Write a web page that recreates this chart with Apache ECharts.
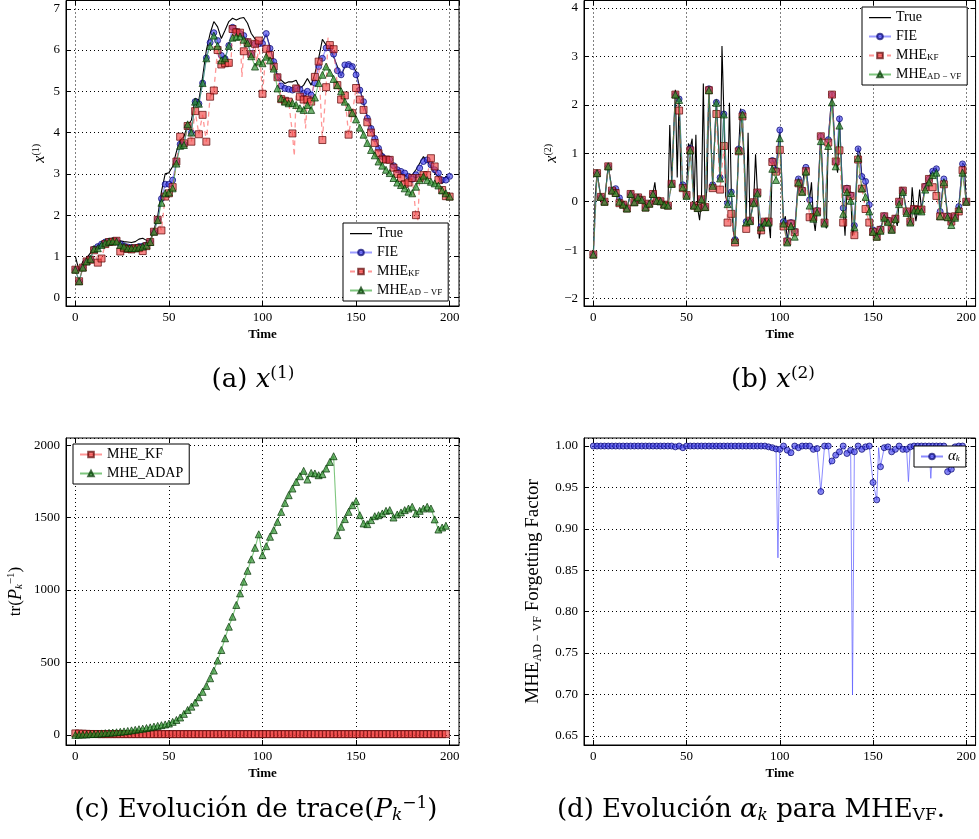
<!DOCTYPE html>
<html><head><meta charset="utf-8">
<script src="https://cdn.jsdelivr.net/npm/echarts@6/dist/echarts.min.js"></script>
<style>html,body{margin:0;padding:0;background:#fff}#c{width:979px;height:839px}</style>
</head><body><div id="c"></div><script>
// ---------- data (markers every 2 time steps, t = 0,2,4,...) ----------
const x1True = [1.0,0.65,0.88,0.96,1.08,1.2,1.27,1.32,1.36,1.39,
 1.4,1.4,1.38,1.36,1.35,1.34,1.36,1.42,1.44,1.39,
 1.38,1.65,1.97,2.57,3.0,3.03,3.18,3.54,3.82,3.9,
 4.18,4.3,4.83,4.79,5.35,6.0,6.4,6.69,6.56,6.28,
 6.48,6.69,6.77,6.73,6.77,6.79,6.65,6.4,6.27,6.2,
 6.2,6.38,6.08,5.72,5.35,5.27,5.19,5.23,5.23,5.27,
 5.07,5.15,5.31,5.15,5.43,5.8,6.26,6.12,6.04,5.84,
 5.6,5.37,5.6,5.68,5.64,5.48,5.07,4.71,4.39,4.15,
 3.9,3.66,3.5,3.38,3.34,3.22,3.1,3.02,2.98,2.9,
 2.98,3.1,3.26,3.42,3.3,3.18,3.02,2.94,2.77,2.94,2.9];
const x1FIE = [0.68,0.4,0.73,0.88,0.94,1.18,1.24,1.3,1.35,1.37,
 1.38,1.38,1.3,1.26,1.23,1.22,1.21,1.24,1.25,1.28,
 1.36,1.6,1.9,2.4,2.75,2.75,2.85,3.3,3.72,3.72,
 4.15,4.0,4.75,4.7,5.2,5.81,6.18,6.42,6.23,5.87,
 5.79,6.11,6.55,6.45,6.4,6.35,6.2,5.9,6.15,6.15,
 6.16,6.4,6.04,5.72,5.35,5.13,5.07,5.05,5.03,5.07,
 5.05,4.95,5.0,4.91,5.2,5.6,5.8,6.05,6.05,5.9,
 5.5,5.4,5.64,5.65,5.6,5.4,5.03,4.75,4.35,4.1,
 3.86,3.62,3.42,3.35,3.35,3.2,3.1,3.06,3.02,2.94,
 2.87,2.98,3.14,3.3,3.34,3.22,3.1,3.02,2.85,2.85,2.94];
const x1KF = [0.68,0.4,0.73,0.88,0.92,1.15,0.85,0.95,1.3,1.35,
 1.36,1.38,1.12,1.2,1.18,1.17,1.2,1.2,1.13,1.25,
 1.35,1.6,1.89,1.63,2.45,2.53,2.68,3.3,3.9,3.74,
 4.16,3.78,4.52,3.96,4.43,3.78,4.87,5.02,6.0,5.65,
 5.68,5.69,6.51,6.43,6.42,5.97,6.19,5.9,6.15,6.23,
 4.94,6.03,5.88,5.6,5.34,4.81,4.77,4.75,3.98,5.07,
 4.87,4.8,4.8,4.75,5.35,5.72,3.82,5.1,6.12,6.02,
 5.15,4.8,4.9,3.95,4.47,5.08,4.8,4.55,4.25,4.0,
 3.75,3.5,3.35,3.35,3.34,3.15,3.0,2.9,2.75,2.79,
 2.9,2.0,2.9,2.97,2.97,3.38,3.18,2.85,2.61,2.46,2.45];
// odd-step points of the MHE_KF line (no marker): [t, value]
const x1KFOdd = [[83,5.55],[89,5.35],[97,5.6],[117,3.43],[123,4.1],[135,6.3],[183,1.88]];
const x1ADVF = [0.68,0.4,0.73,0.88,0.94,1.18,1.2,1.28,1.33,1.36,
 1.37,1.36,1.28,1.24,1.2,1.2,1.2,1.22,1.24,1.27,
 1.35,1.6,1.88,2.3,2.53,2.55,2.65,3.25,3.68,3.7,
 4.2,4.0,4.75,4.7,5.2,5.8,6.1,6.35,6.1,5.75,
 5.8,6.1,6.3,6.32,6.33,6.25,6.17,5.85,5.6,5.72,
 5.68,5.84,5.75,5.55,5.07,4.83,4.75,4.71,4.72,4.67,
 4.59,4.55,4.67,4.55,4.85,5.2,5.4,5.6,5.45,5.3,
 5.15,5.0,4.75,4.62,4.48,4.32,4.12,3.95,3.75,3.58,
 3.45,3.3,3.2,3.1,3.02,2.9,2.79,2.73,2.65,2.57,
 2.53,2.69,2.85,2.94,2.85,2.81,2.77,2.72,2.6,2.53,2.45];

const x2True = [-1.09,0.6,0.1,0.0,0.75,0.25,0.28,0.1,-0.05,-0.14,
 0.17,-0.01,0.1,0.05,-0.12,-0.03,0.17,0.03,0.01,-0.06,
 -0.08,0.4,2.31,2.15,0.38,0.15,1.12,-0.08,-0.15,0.06,
 -0.12,2.35,0.38,2.08,0.52,1.83,-0.02,0.22,-0.8,1.12,
 1.9,-0.42,-0.38,0.0,0.2,-0.52,-0.42,-0.4,0.88,0.68,
 1.5,-0.42,-0.82,-0.42,-0.62,0.5,0.26,0.72,0.05,-0.33,
 -0.18,1.4,-0.43,1.3,2.25,0.85,1.75,-0.13,0.3,0.15,
 -0.5,1.12,0.54,0.45,-0.05,-0.6,-0.72,-0.56,-0.28,-0.38,
 -0.58,-0.34,0.02,0.25,-0.2,-0.42,-0.14,-0.15,-0.16,0.34,
 0.48,0.65,0.7,-0.2,0.48,-0.3,-0.4,-0.3,-0.1,0.8,0.0];
// odd-step points of the true x2 line: [t, value]
const x2TrueOdd = [[1,0.1],[33,0.4],[41,1.58],[45,0.5],[47,0.4],[51,1.2],[53,1.3],[55,1.38],[57,-0.38],
 [59,2.44],[61,0.3],[69,3.21],[71,0.1],[73,2.04],[75,-0.6],[79,1.92],[81,0.9],[83,1.42],[87,0.98],
 [89,-0.76],[95,-0.75],[97,0.9],[103,-0.3],[105,-0.5],[111,0.5],[113,0.6],[117,0.4],[119,-0.6],
 [123,1.42],[125,-0.55],[127,1.3],[131,0.6],[133,1.75],[135,-0.7],[139,-0.7],[143,1.0],[149,-0.65],
 [163,-0.5],[165,0.3],[171,0.3],[173,-0.4],[175,0.25],[181,0.6],[185,0.7],[191,-0.45],[199,0.75]];
const x2FIE = [-1.09,0.59,0.1,0.0,0.73,0.23,0.27,0.08,-0.06,-0.14,
 0.16,-0.01,0.09,0.04,-0.12,-0.04,0.16,0.02,0.01,-0.06,
 -0.08,0.37,2.21,2.12,0.35,0.14,1.1,-0.08,-0.13,0.05,
 -0.11,2.33,0.35,2.05,0.5,1.81,-0.03,0.2,-0.78,1.09,
 1.84,-0.41,-0.39,-0.01,0.19,-0.51,-0.41,-0.41,0.85,0.65,
 1.48,-0.41,-0.8,-0.43,-0.61,0.47,0.25,0.71,0.04,-0.32,
 -0.18,1.35,-0.43,1.28,2.21,0.83,1.71,-0.13,0.28,0.14,
 -0.49,1.09,0.52,0.42,-0.06,-0.58,-0.7,-0.56,-0.29,-0.38,
 -0.57,-0.34,0.0,0.23,-0.2,-0.41,-0.15,-0.15,-0.16,0.32,
 0.47,0.63,0.68,-0.2,0.47,-0.29,-0.39,-0.3,-0.1,0.78,0.0];
const x2KF = [-1.09,0.59,0.1,0.0,0.73,0.23,0.18,-0.03,-0.06,-0.14,
 0.16,-0.01,0.09,0.04,-0.12,-0.04,0.16,0.02,0.01,-0.06,
 -0.08,0.37,2.21,1.88,0.28,0.14,1.06,-0.08,-0.13,0.05,
 -0.11,2.3,0.28,1.81,0.25,1.15,-0.43,-0.25,-0.84,1.04,
 1.76,-0.56,-0.39,-0.01,0.19,-0.59,-0.41,-0.41,0.82,0.62,
 1.07,-0.51,-0.82,-0.45,-0.63,0.38,0.22,0.63,-0.32,-0.32,
 -0.2,1.35,-0.43,1.22,2.21,0.83,1.06,-0.43,0.26,0.12,
 -0.69,0.87,0.27,-0.15,-0.43,-0.62,-0.72,-0.58,-0.3,-0.4,
 -0.57,-0.35,0.0,0.23,-0.2,-0.41,-0.15,-0.17,-0.16,0.3,
 0.47,0.3,0.12,-0.3,0.36,-0.31,-0.41,-0.3,-0.2,0.65,0.0];
const x2ADVF = [-1.09,0.59,0.1,0.0,0.73,0.23,0.18,0.0,-0.06,-0.14,
 0.16,-0.01,0.09,0.04,-0.12,-0.04,0.16,0.02,0.01,-0.06,
 -0.08,0.37,2.21,2.1,0.3,0.12,1.06,-0.08,-0.13,0.05,
 -0.11,2.3,0.33,2.04,0.48,1.8,-0.05,0.18,-0.79,1.06,
 1.8,-0.43,-0.4,-0.03,0.17,-0.53,-0.43,-0.43,0.68,0.45,
 1.31,-0.45,-0.84,-0.5,-0.72,0.4,0.2,0.62,-0.08,-0.35,
 -0.22,1.25,-0.45,1.15,2.05,0.73,1.57,-0.25,0.2,0.02,
 -0.52,0.9,0.28,0.1,-0.2,-0.62,-0.72,-0.6,-0.33,-0.42,
 -0.58,-0.36,-0.05,0.2,-0.23,-0.43,-0.18,-0.18,-0.2,0.25,
 0.4,0.55,0.6,-0.3,0.4,-0.32,-0.48,-0.33,-0.15,0.6,0.0];

const trKF = [10,9,8,7,6,6,5,5,5,5, 5,5,5,5,5,5,5,5,5,5, 5,5,5,5,5,5,5,5,5,5, 5,5,5,5,5,5,5,5,5,5,
 5,5,5,5,5,5,5,5,5,5, 5,5,5,5,5,5,5,5,5,5, 5,5,5,5,5,5,5,5,5,5, 5,5,5,5,5,5,5,5,5,5,
 5,5,5,5,5,5,5,5,5,5, 5,5,5,5,5,5,5,5,5,5];
const trADAP = [0,1,2,3,5,6,8,10,12,14,
 16,18,21,24,27,31,35,39,43,47,
 52,57,62,67,72,78,90,103,120,145,
 172,195,223,260,297,338,391,444,513,586,
 667,747,816,897,977,1058,1133,1212,1292,1385,
 1241,1303,1368,1414,1471,1540,1602,1655,1701,1747,
 1786,1823,1763,1809,1805,1793,1800,1839,1885,1924,
 1379,1437,1490,1540,1586,1614,1517,1460,1455,1483,
 1510,1517,1529,1547,1552,1501,1522,1536,1552,1563,
 1575,1529,1547,1563,1575,1563,1488,1418,1432,1444];

const alphaK = [1,1,1,1,1,1,1,1,1,1, 1,1,1,1,1,1,1,1,1,1,
 1,1,0.999,1,0.998,1,1,1,1,1, 1,1,1,1,1,1,1,1,1,1,
 1,1,1,1,1,1,1,0.999,0.998,0.9965,
 0.996,1,0.995,0.992,1,0.998,1,1,1,0.996,
 0.997,0.945,1,1,0.982,0.989,0.993,1,0.991,0.995,
 0.993,1,0.996,0.999,1,0.956,0.935,0.975,0.998,0.999,
 0.993,0.996,1,0.996,0.996,0.999,1,1,1,1,
 1,1,1,1,1,0.969,0.972,0.999,1,1];
const alphaOdd = [[99,0.865],[105,0.988],[127,0.977],[139,0.6995],[153,0.998],[169,0.957],[181,0.961]];

// ---------- chart ----------
const FONT = "'Liberation Serif','DejaVu Serif',serif";
const CAPFONT = "'DejaVu Serif','Liberation Serif',serif";
const chart = echarts.init(document.getElementById('c'), null, {renderer:'canvas'});

function evenPts(vals){ return vals.map((v,i)=>({value:[i*2, v]})); }
function withOdd(vals, odd){
  const d = evenPts(vals);
  odd.forEach(s=>d.push({value:[s[0], s[1]], symbol:'none'}));
  d.sort((a,b)=>a.value[0]-b.value[0]);
  return d;
}

const grids = [
  {left:66, top:0.5, width:393, height:305.5, show:true, borderColor:'#000', borderWidth:1},
  {left:584, top:0.5, width:393.75, height:305.5, show:true, borderColor:'#000', borderWidth:1},
  {left:66, top:438, width:393, height:307, show:true, borderColor:'#000', borderWidth:1},
  {left:584, top:438, width:393.75, height:307, show:true, borderColor:'#000', borderWidth:1}
];

function richSet(base){
  const sub = {fontFamily:FONT, fontSize:Math.round(base*0.64), color:'#000', padding:[Math.round(base*0.38),0,0,0]};
  return {
    i: {fontStyle:'italic', fontFamily:FONT, fontSize:base+1, color:'#000'},
    n: {fontFamily:FONT, fontSize:base, color:'#000'},
    s: sub,
    k: Object.assign({}, sub, {fontStyle:'italic'}),
    p: {fontFamily:FONT, fontSize:Math.round(base*0.66), color:'#000', padding:[0,0,Math.round(base*0.5),0]},
    m: {fontFamily:FONT, fontSize:19, color:'#000'},
    t: {fontFamily:FONT, fontSize:12, color:'#000', padding:[9,0,0,0]}
  };
}

function xAx(g, top){
  return {type:'value', gridIndex:g, min:-5, max:205, splitNumber:4, position: top?'top':'bottom',
    axisLine:{show:!top, onZero:false, lineStyle:{color:'#000'}},
    axisTick:{show:true, inside:true, length:5, lineStyle:{color:'#000'}},
    axisLabel:{show:!top, showMinLabel:false, showMaxLabel:false, color:'#000', fontFamily:FONT, fontSize:13, margin:5},
    splitLine:{show:!top, lineStyle:{color:'#000', type:[1,3], width:1}},
    name: top ? '' : 'Time', nameLocation:'middle', nameGap:22,
    nameTextStyle:{fontFamily:FONT, fontSize:13, color:'#000', fontWeight:'bold'}};
}
const yDefs = [
  {min:-0.2, max:7.2, split:7, fmt:v=>String(v), name:'{i|x}{p|(1)}', gap:17, fs:15},
  {min:-2.15, max:4.15, split:6, fmt:v=>String(v).replace('-','\u2212'), name:'{i|x}{p|(2)}', gap:19, fs:15},
  {min:-70, max:2050, split:4, fmt:v=>String(v), name:'{n|tr(}{i|P}{k|k}{p|\u22121}{n|)}', gap:40, fs:17},
  {min:0.639, max:1.0097, split:7, fmt:v=>v.toFixed(2), name:'{m|MHE}{t|AD \u2212 VF}{m| Forgetting Factor}', gap:40, fs:17}
];
function yAx(g, right){
  const d = yDefs[g];
  return {type:'value', gridIndex:g, min:d.min, max:d.max, splitNumber:d.split, position: right?'right':'left',
    axisLine:{show:!right, onZero:false, lineStyle:{color:'#000'}},
    axisTick:{show:true, inside:true, length:5, lineStyle:{color:'#000'}},
    axisLabel:{show:!right, showMinLabel:false, showMaxLabel:false, color:'#000', fontFamily:FONT, fontSize:13, margin:6, formatter:d.fmt},
    splitLine:{show:!right, lineStyle:{color:'#000', type:[1,3], width:1}},
    name: right ? '' : d.name, nameLocation:'middle', nameRotate:90, nameGap:d.gap,
    nameTextStyle:{fontFamily:FONT, fontSize:d.fs, color:'#000', rich:richSet(d.fs)}};
}

const trueStyle = g => ({type:'line', name:'True', xAxisIndex:g, yAxisIndex:g, showSymbol:false, symbol:'none',
  lineStyle:{color:'#000', width:1.1}, itemStyle:{color:'#000'}, z:2});
function fieS(g, data){ return {type:'line', name:'FIE', xAxisIndex:g, yAxisIndex:g, data, symbol:'circle', symbolSize:6,
  lineStyle:{color:'rgba(90,90,255,0.6)', width:1.3}, itemStyle:{color:'rgba(70,70,235,0.65)', borderColor:'rgba(0,0,110,0.7)', borderWidth:1}, z:3}; }
function kfS(g, data, name, dashed){ return {type:'line', name, xAxisIndex:g, yAxisIndex:g, data, symbol:'rect', symbolSize:7,
  lineStyle:{color:'rgba(255,80,80,0.6)', width:1.3, type: dashed ? [5,4] : 'solid'}, itemStyle:{color:'rgba(240,60,60,0.62)', borderColor:'rgba(90,0,0,0.7)', borderWidth:1}, z:4}; }
function adS(g, data, name){ return {type:'line', name, xAxisIndex:g, yAxisIndex:g, data, symbol:'triangle', symbolSize:7,
  lineStyle:{color:'rgba(40,160,40,0.6)', width:1.1}, itemStyle:{color:'rgba(40,140,40,0.65)', borderColor:'rgba(0,50,0,0.7)', borderWidth:1}, z:5}; }

const series = [
  Object.assign(trueStyle(0), {data: evenPts(x1True)}),
  fieS(0, evenPts(x1FIE)),
  kfS(0, withOdd(x1KF, x1KFOdd), 'MHE_KF', true),
  adS(0, evenPts(x1ADVF), 'MHE_ADVF'),
  Object.assign(trueStyle(1), {data: withOdd(x2True, x2TrueOdd)}),
  fieS(1, evenPts(x2FIE)),
  kfS(1, evenPts(x2KF), 'MHE_KF', true),
  adS(1, evenPts(x2ADVF), 'MHE_ADVF'),
  kfS(2, evenPts(trKF), 'cKF', false),
  adS(2, evenPts(trADAP), 'cADAP'),
  {type:'line', name:'alpha', xAxisIndex:3, yAxisIndex:3, data: withOdd(alphaK, alphaOdd), symbol:'circle', symbolSize:6,
   lineStyle:{color:'rgba(90,90,255,0.7)', width:1}, itemStyle:{color:'rgba(70,70,235,0.65)', borderColor:'rgba(0,0,110,0.7)', borderWidth:1}, z:3}
];

const legText = {'True':'True','FIE':'FIE','MHE_KF':'MHE{s|KF}','MHE_ADVF':'MHE{s|AD \u2212 VF}',
  'cKF':'MHE_KF','cADAP':'MHE_ADAP','alpha':'{i|\u03b1}{k|k}'};
const lineIcon = 'path://M0,0h0.01v0.01h-0.01z M0,3.1h22v1.1h-22z M22,7h-0.01v-0.01h0.01z';
function leg(names, left, top){
  return {data: names.map(n => n === 'True' ? {name:n, icon:lineIcon, itemStyle:{color:'#000', borderWidth:0}} : n),
    left, top, orient:'vertical', backgroundColor:'#fff', borderColor:'#000', borderWidth:1, borderRadius:0,
    padding:[3,6,3,6], itemGap:4, itemWidth:22, itemHeight:7, selectedMode:false,
    formatter: n => legText[n],
    textStyle:{fontFamily:FONT, fontSize:14, color:'#000', lineHeight:15, rich:richSet(14)}};
}

const CAPSIZE = 26;
const capRich = {
  n:{fontFamily:CAPFONT, fontSize:CAPSIZE, color:'#000'},
  i:{fontFamily:CAPFONT, fontSize:CAPSIZE, fontStyle:'italic', color:'#000'},
  p:{fontFamily:CAPFONT, fontSize:17, color:'#000', padding:[0,0,13,0]},
  s:{fontFamily:CAPFONT, fontSize:17, color:'#000', padding:[11,0,0,0]},
  k:{fontFamily:CAPFONT, fontSize:17, fontStyle:'italic', color:'#000', padding:[11,0,0,0]}
};
function cap(x, y, text){
  return {type:'text', x, y, style:{text, rich:capRich, align:'center', verticalAlign:'middle',
    textAlign:'center', textVerticalAlign:'middle', fontFamily:CAPFONT, fontSize:CAPSIZE, fill:'#000'}};
}

chart.setOption({
  animation:false,
  backgroundColor:'#fff',
  grid: grids,
  xAxis:[xAx(0),xAx(1),xAx(2),xAx(3),xAx(0,true),xAx(1,true),xAx(2,true),xAx(3,true)],
  yAxis:[yAx(0),yAx(1),yAx(2),yAx(3),yAx(0,true),yAx(1,true),yAx(2,true),yAx(3,true)],
  legend:[
    leg(['True','FIE','MHE_KF','MHE_ADVF'], 343, 223),
    leg(['True','FIE','MHE_KF','MHE_ADVF'], 862, 7),
    leg(['cKF','cADAP'], 73, 444),
    leg(['alpha'], 914, 446)
  ],
  series,
  graphic:[
    cap(253, 380, '{n|(a) }{i|x}{p|(1)}'),
    cap(773, 380, '{n|(b) }{i|x}{p|(2)}'),
    cap(256, 810, '{n|(c) Evolución de trace(}{i|P}{k|k}{p|\u22121}{n|)}'),
    cap(751, 810, '{n|(d) Evolución }{i|\u03b1}{k|k}{n| para MHE}{s|VF}{n|.}')
  ]
});
</script></body></html>
